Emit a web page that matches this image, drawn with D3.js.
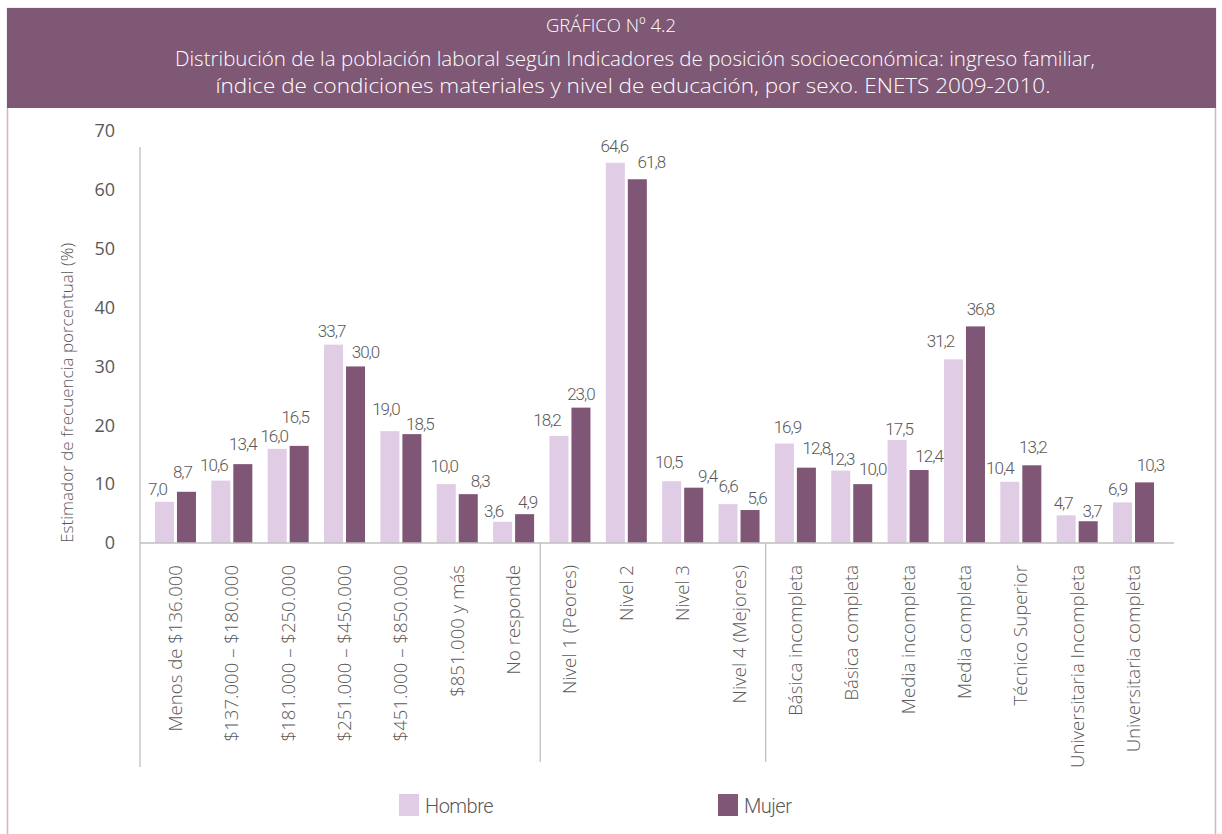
<!DOCTYPE html>
<html>
<head>
<meta charset="utf-8">
<script src="https://cdn.jsdelivr.net/npm/d3@7"></script>
<style>
  body { margin: 0; background: #fff; }
  svg { display: block; }
</style>
</head>
<body>
<div id="viz"></div>
<script>

// categories (income, material conditions, education)
const categories = [
  "Menos de $136.000", "$137.000 - $180.000", "$181.000 - $250.000",
  "$251.000 - $450.000", "$451.000 - $850.000", "$851.000 y más", "No responde",
  "Nivel 1 (Peores)", "Nivel 2", "Nivel 3", "Nivel 4 (Mejores)",
  "Básica incompleta", "Básica completa", "Media incompleta", "Media completa",
  "Técnico Superior", "Universitaria Incompleta", "Universitaria completa"
];

const hombre = [7.0, 10.6, 16.0, 33.7, 19.0, 10.0, 3.6, 18.2, 64.6, 10.5, 6.6, 16.9, 12.3, 17.5, 31.2, 10.4, 4.7, 6.9];
const mujer  = [8.7, 13.4, 16.5, 30.0, 18.5, 8.3, 4.9, 23.0, 61.8, 9.4, 5.6, 12.8, 10.0, 12.4, 36.8, 13.2, 3.7, 10.3];

const seriesNames = ["Hombre", "Mujer"];
const yTicks = [0, 10, 20, 30, 40, 50, 60, 70];
// index of the first category of each block (after the first one)
const groupBreaks = [7, 11];

// hand placed value labels in the original (offset from bar centre / gap above bar top)
const labelDx = {
  Hombre: [-7, -7, -3, -2, -4, -2, -9, -12, -1, -3, 0, 3, 0, 2, -13, -10, -3, -5],
  Mujer:  [-4, 0, -4, 10, 8, 12, 3, 0, 14, 14, 7, 10, 10, 10, 5, 1, 4, 6]
};
const labelGap = {
  Hombre: [7, 10, 7, 8, 16, 12, 5, 10, 11, 13, 12, 11, 6, 5, 12, 8, 6, 7],
  Mujer:  [14, 14, 23, 8, 4, 7, 6, 8, 11, 6, 6, 14, 9, 8, 11, 12, 4, 11]
};

const colors = { Hombre: "#e0cce4", Mujer: "#7f5675" };
const grey = "#595959";

let width = 1222, height = 834;

let svg = d3.select("#viz").append("svg")
  .attr("width", width)
  .attr("height", height);

// frame + header
svg.append("rect")
  .attr("x", 7.5).attr("y", 8.5)
  .attr("width", 1208).attr("height", 840)
  .attr("fill", "none")
  .attr("stroke", "#cfb6cc")
  .attr("stroke-width", 1.5);

svg.append("rect")
  .attr("x", 7).attr("y", 8)
  .attr("width", 1209).attr("height", 100)
  .attr("fill", "#7f5875");

let head = svg.append("g")
  .attr("fill", "#fff")
  .attr("text-anchor", "middle")
  .style("font-family", "'Open Sans', sans-serif")
  .style("font-weight", 300);

head.append("text")
  .attr("x", 611).attr("y", 32)
  .style("font-size", "19px")
  .attr("textLength", 130)
  .attr("lengthAdjust", "spacingAndGlyphs")
  .text("GRÁFICO Nº 4.2");

head.append("text")
  .attr("x", 635).attr("y", 66)
  .style("font-size", "19.5px")
  .attr("textLength", 920)
  .attr("lengthAdjust", "spacingAndGlyphs")
  .text("Distribución de la población laboral según Indicadores de posición socioeconómica: ingreso familiar,");

head.append("text")
  .attr("x", 633).attr("y", 93)
  .style("font-size", "19.5px")
  .attr("textLength", 835)
  .attr("lengthAdjust", "spacingAndGlyphs")
  .text("índice de condiciones materiales y nivel de educación, por sexo. ENETS 2009-2010.");

// scales
let yScale = d3.scaleLinear().domain([0, 70]).range([543, 131]);

let xScale = d3.scaleBand()
  .domain(categories)
  .range([147.3, 1161.7])
  .paddingInner(0.2725)
  .paddingOuter(0.136);

let xSub = d3.scaleBand()
  .domain(seriesNames)
  .range([0, xScale.bandwidth()])
  .paddingInner(0.136);

let locale = d3.formatLocale({ decimal: ",", thousands: ".", grouping: [3], currency: ["$", ""] });
let fmt = locale.format(".1f");

let data = categories.map((c, i) => ({ cat: c, i: i, Hombre: hombre[i], Mujer: mujer[i] }));

// y axis (no ticks, just labels)
svg.append("g")
  .attr("transform", "translate(140,0)")
  .call(d3.axisLeft(yScale).tickValues(yTicks).tickSize(0).tickPadding(25))
  .call(g => g.select(".domain").remove())
  .selectAll("text")
  .style("font-family", "'Open Sans', sans-serif")
  .style("font-size", "18px")
  .attr("fill", grey);

svg.append("line")
  .attr("x1", 140).attr("x2", 140)
  .attr("y1", 147).attr("y2", 767)
  .attr("stroke", "#bfbfbf").attr("stroke-width", 1.3);

svg.append("text")
  .attr("transform", `translate(73,${yScale(25.5)}) rotate(-90)`)
  .attr("text-anchor", "middle")
  .style("font-family", "'Open Sans', sans-serif")
  .style("font-size", "17px")
  .style("font-weight", 300)
  .attr("fill", grey)
  .text("Estimador de frecuencia porcentual (%)");

// bars
let groups = svg.append("g").selectAll("g")
  .data(data)
  .enter().append("g")
  .attr("transform", d => `translate(${xScale(d.cat)},0)`);

let pairs = d => seriesNames.map(s => ({ key: s, value: d[s], i: d.i }));

groups.selectAll("rect")
  .data(pairs)
  .enter().append("rect")
  .attr("x", d => xSub(d.key))
  .attr("y", d => yScale(d.value))
  .attr("width", xSub.bandwidth())
  .attr("height", d => yScale(0) - yScale(d.value))
  .attr("fill", d => colors[d.key]);

groups.selectAll("text")
  .data(pairs)
  .enter().append("text")
  .attr("x", d => xSub(d.key) + xSub.bandwidth() / 2 + labelDx[d.key][d.i])
  .attr("y", d => yScale(d.value) - labelGap[d.key][d.i])
  .attr("text-anchor", "middle")
  .style("font-family", "Roboto, sans-serif")
  .style("font-size", "17px")
  .style("font-weight", 300)
  .style("letter-spacing", "-1px")
  .attr("fill", grey)
  .text(d => fmt(d.value));

// baseline
svg.append("line")
  .attr("x1", 140).attr("x2", 1174)
  .attr("y1", yScale(0)).attr("y2", yScale(0))
  .attr("stroke", "#bfbfbf").attr("stroke-width", 1.3);

// separators between blocks
let step = xScale.step();
svg.selectAll(".sep")
  .data(groupBreaks)
  .enter().append("line")
  .attr("class", "sep")
  .attr("x1", i => xScale(categories[i]) - step * xScale.paddingInner() / 2 - 1.5)
  .attr("x2", i => xScale(categories[i]) - step * xScale.paddingInner() / 2 - 1.5)
  .attr("y1", yScale(0)).attr("y2", 762)
  .attr("stroke", "#bfbfbf").attr("stroke-width", 1.3);

// category labels
svg.append("g").selectAll("text")
  .data(categories)
  .enter().append("text")
  .attr("transform", d => `translate(${xScale(d) + xScale.bandwidth() / 2},565) rotate(-90)`)
  .attr("text-anchor", "end")
  .attr("dy", "0.35em")
  .style("font-family", "'Open Sans', sans-serif")
  .style("font-size", "18.6px")
  .style("font-weight", 300)
  .attr("fill", grey)
  .text(d => d.replace(" - ", " – "));

// legend
let legendX = [399, 718];
let legend = svg.append("g").selectAll("g")
  .data(seriesNames)
  .enter().append("g")
  .attr("transform", (d, i) => `translate(${legendX[i]},794)`);

legend.append("rect")
  .attr("width", 20).attr("height", 22)
  .attr("fill", d => colors[d]);

legend.append("text")
  .attr("x", 26).attr("y", 19)
  .style("font-family", "Roboto, sans-serif")
  .style("font-size", "20px")
  .style("font-weight", 300)
  .style("letter-spacing", "-0.5px")
  .attr("fill", grey)
  .text(d => d);

</script>
</body>
</html>
